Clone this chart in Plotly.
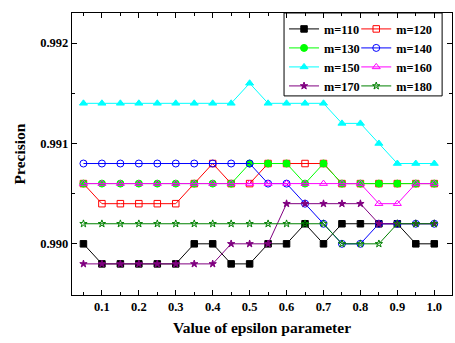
import plotly.graph_objects as go

# epsilon values on the x axis
epsilon = [0.05, 0.10, 0.15, 0.20, 0.25, 0.30, 0.35, 0.40, 0.45, 0.50,
           0.55, 0.60, 0.65, 0.70, 0.75, 0.80, 0.85, 0.90, 0.95, 1.00]

# precision for each m setting
m110 = [0.9900, 0.9898, 0.9898, 0.9898, 0.9898, 0.9898, 0.9900, 0.9900, 0.9898, 0.9898,
        0.9900, 0.9900, 0.9902, 0.9900, 0.9902, 0.9902, 0.9902, 0.9902, 0.9900, 0.9900]
m120 = [0.9906, 0.9904, 0.9904, 0.9904, 0.9904, 0.9904, 0.9906, 0.9908, 0.9906, 0.9906,
        0.9908, 0.9908, 0.9908, 0.9908, 0.9906, 0.9906, 0.9906, 0.9906, 0.9906, 0.9906]
m130 = [0.9906, 0.9906, 0.9906, 0.9906, 0.9906, 0.9906, 0.9906, 0.9906, 0.9906, 0.9908,
        0.9908, 0.9908, 0.9906, 0.9908, 0.9906, 0.9906, 0.9906, 0.9906, 0.9906, 0.9906]
m140 = [0.9908, 0.9908, 0.9908, 0.9908, 0.9908, 0.9908, 0.9908, 0.9908, 0.9908, 0.9908,
        0.9906, 0.9906, 0.9904, 0.9902, 0.9900, 0.9900, 0.9902, 0.9902, 0.9902, 0.9902]
m150 = [0.9914, 0.9914, 0.9914, 0.9914, 0.9914, 0.9914, 0.9914, 0.9914, 0.9914, 0.9916,
        0.9914, 0.9914, 0.9914, 0.9914, 0.9912, 0.9912, 0.9910, 0.9908, 0.9908, 0.9908]
m160 = [0.9906, 0.9906, 0.9906, 0.9906, 0.9906, 0.9906, 0.9906, 0.9906, 0.9906, 0.9906,
        0.9906, 0.9906, 0.9906, 0.9906, 0.9906, 0.9906, 0.9904, 0.9904, 0.9906, 0.9906]
m170 = [0.9898, 0.9898, 0.9898, 0.9898, 0.9898, 0.9898, 0.9898, 0.9898, 0.9900, 0.9900,
        0.9900, 0.9904, 0.9904, 0.9904, 0.9904, 0.9904, 0.9902, 0.9902, 0.9902, 0.9902]
m180 = [0.9902, 0.9902, 0.9902, 0.9902, 0.9902, 0.9902, 0.9902, 0.9902, 0.9902, 0.9902,
        0.9902, 0.9902, 0.9902, 0.9902, 0.9900, 0.9900, 0.9900, 0.9902, 0.9902, 0.9902]

series_names = ["m=110", "m=120", "m=130", "m=140", "m=150", "m=160", "m=170", "m=180"]
series_values = [m110, m120, m130, m140, m150, m160, m170, m180]

colors = ["#000000", "#FF0000", "#00FF00", "#0000FF", "#00FFFF", "#FF00FF", "#800080", "#008000"]
symbols = ["square", "square-open", "circle", "circle-open",
           "triangle-up", "triangle-up-open", "star", "star-open"]
sizes = [6.5, 6.5, 7, 7, 7, 7, 5.5, 5.5]
# two legend columns: left column for 110/130/150/170, right for 120/140/160/180
legend_ids = ["legend", "legend2"] * 4

SERIF = "Times New Roman, Liberation Serif, Times, serif"

fig = go.Figure()
for name, vals, col, sym, sz, lg in zip(series_names, series_values, colors,
                                         symbols, sizes, legend_ids):
    fig.add_trace(go.Scatter(
        x=epsilon, y=vals, name=name, mode="lines+markers",
        line=dict(color=col, width=1),
        marker=dict(symbol=sym, size=sz, color=col, line=dict(color=col, width=1)),
        legend=lg,
    ))

axis_common = dict(
    showline=True, linecolor="black", linewidth=1.3, mirror="ticks",
    ticks="inside", ticklen=5, tickwidth=1, tickcolor="black",
    showgrid=False, zeroline=False,
    tickfont=dict(family=SERIF, size=12.5, color="black", weight="bold"),
)

legend_font = dict(family=SERIF, size=12.3, color="black", weight="bold")

fig.update_layout(
    width=455, height=343,
    margin=dict(l=72, r=3, t=13, b=48),
    paper_bgcolor="white", plot_bgcolor="white",
    font=dict(family=SERIF, color="black"),
    xaxis=dict(
        range=[0.019, 1.048], tickmode="array",
        tickvals=[0.1, 0.2, 0.3, 0.4, 0.5, 0.6, 0.7, 0.8, 0.9, 1.0],
        ticktext=["0.1", "0.2", "0.3", "0.4", "0.5", "0.6", "0.7", "0.8", "0.9", "1.0"],
        minor=dict(tickvals=[0.05, 0.15, 0.25, 0.35, 0.45, 0.55, 0.65, 0.75, 0.85, 0.95],
                   ticks="inside", ticklen=3, tickcolor="black"),
        title=dict(text="Value of epsilon parameter", standoff=8,
                   font=dict(family=SERIF, size=15.5, color="black", weight="bold")),
        **axis_common,
    ),
    yaxis=dict(
        range=[0.98949, 0.99230], tickmode="array",
        tickvals=[0.990, 0.991, 0.992], ticktext=["0.990", "0.991", "0.992"],
        minor=dict(tickvals=[0.9895, 0.9905, 0.9915], ticks="inside", ticklen=3,
                   tickcolor="black"),
        title=dict(text="Precision", standoff=10,
                   font=dict(family=SERIF, size=15.5, color="black", weight="bold")),
        **axis_common,
    ),
    showlegend=True,
    legend=dict(x=0.558, y=0.995, xanchor="left", yanchor="top",
                bgcolor="rgba(0,0,0,0)", borderwidth=0, tracegroupgap=0,
                font=legend_font),
    legend2=dict(x=0.748, y=0.995, xanchor="left", yanchor="top",
                 bgcolor="rgba(0,0,0,0)", borderwidth=0, tracegroupgap=0,
                 font=legend_font),
    shapes=[dict(type="rect", xref="paper", yref="paper",
                 x0=0.558, x1=0.974, y0=0.706, y1=1.0,
                 line=dict(color="black", width=1), fillcolor="rgba(0,0,0,0)",
                 layer="above")],
)

fig.write_html("out.html")
